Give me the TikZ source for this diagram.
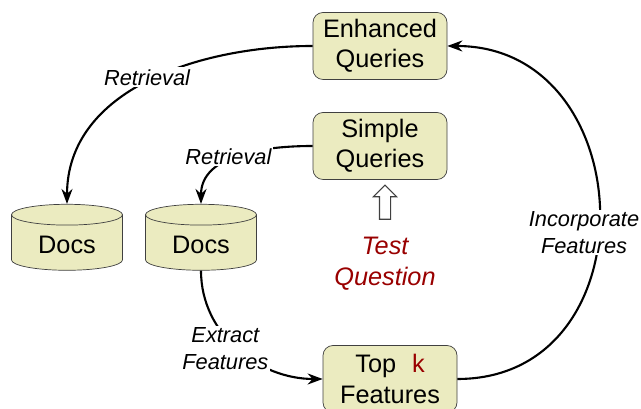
\documentclass[tikz,border=0pt]{standalone}
\usepackage{fontspec}
\setmainfont{Liberation Sans}
\usetikzlibrary{shapes.geometric,shapes.arrows,arrows.meta}

\definecolor{boxfill}{RGB}{235,235,192}
\definecolor{boxline}{RGB}{64,64,64}
\definecolor{darkred}{RGB}{153,0,0}

\begin{document}
\begin{tikzpicture}[
        box/.style={draw=boxline, fill=boxfill, rounded corners=0.2cm, minimum width=2.68cm,
            minimum height=1.34cm, inner sep=0pt, align=center, font=\fontsize{14.4}{17.2}\selectfont},
        docs/.style={cylinder, shape border rotate=90, aspect=0.3, draw=boxline, fill=boxfill,
            minimum width=2.22cm, minimum height=1.32cm, font=\fontsize{14.4}{17}\selectfont},
        lbl/.style={fill=white, align=center, inner sep=1pt, font=\fontsize{12.4}{15}\selectfont\itshape},
        flow/.style={line width=1.2pt, -{Stealth[length=0.3cm, width=0.22cm]}}
    ]

        \useasboundingbox (0,0) rectangle (12.82,8.18);

        \node[box] (enh) at (7.6,7.26) {Enhanced\\Queries};
        \node[box] (simp) at (7.6,5.26) {Simple\\Queries};
        \node[box] (topk) at (7.8,0.6) {Top\hspace{0.35em} \textcolor{darkred}{k}\\Features};

        \node[docs] (docsA) at (1.34,3.28) {Docs};
        \node[docs] (docsB) at (4.02,3.28) {Docs};

        \node[single arrow, shape border rotate=90, draw=boxline, fill=white, line width=0.6pt,
            minimum height=0.68cm, inner sep=0.1cm, single arrow head extend=0.12cm] (up) at (7.7,4.08) {};
        \node[align=center, text=darkred, font=\fontsize{14.4}{17.6}\selectfont\itshape] (tq) at (7.7,2.9) {Test\\Question};

        \draw[flow] (enh.west) to[out=180, in=90] node[lbl, yshift=0.1cm] (retA) {Retrieval} (docsA.north);
        \draw[flow] (simp.west) to[out=180, in=90] node[lbl, xshift=-0.2cm] (retB) {Retrieval} (docsB.north);
        \draw[flow] (docsB.south) to[out=-90, in=180] node[lbl, xshift=-0.25cm] (extr) {Extract\\Features} (topk.west);
        \draw[flow] (topk.east) to[out=0, in=0, looseness=1.5] node[lbl, xshift=-0.3cm, yshift=-0.4cm] (incf) {Incorporate\\Features} (enh.east);

    \end{tikzpicture}
\end{document}
